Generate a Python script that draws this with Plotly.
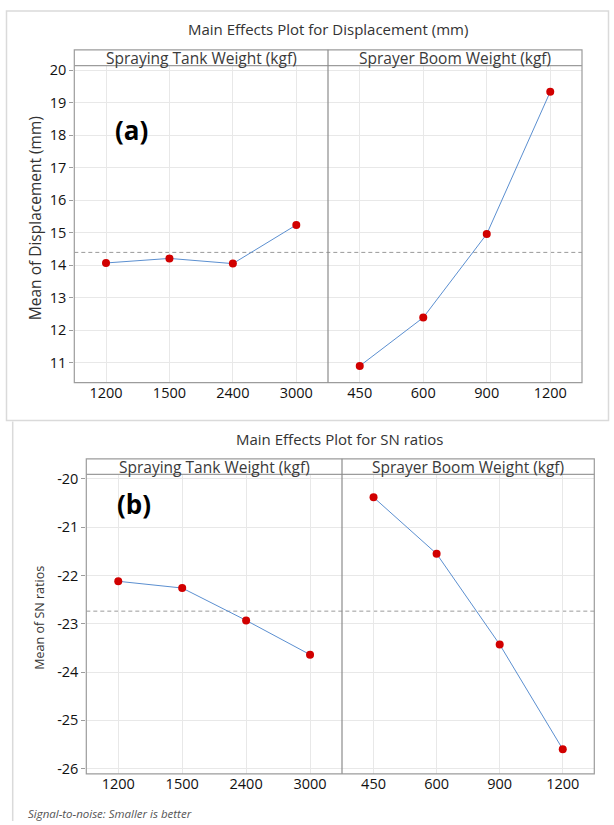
import plotly.graph_objects as go

W, H = 614, 825

# ---------------- data ----------------
tank_levels = ["1200", "1500", "2400", "3000"]
boom_levels = ["450", "600", "900", "1200"]
disp_tank = [14.07, 14.21, 14.05, 15.24]
disp_boom = [10.90, 12.39, 14.96, 19.34]
sn_tank = [-22.12, -22.26, -22.93, -23.64]
sn_boom = [-20.38, -21.55, -23.43, -25.60]
disp_ticks = [11, 12, 13, 14, 15, 16, 17, 18, 19, 20]
sn_ticks = [-26, -25, -24, -23, -22, -21, -20]
factor_names = ["Spraying Tank Weight (kgf)", "Sprayer Boom Weight (kgf)"]
titles = ["Main Effects Plot for Displacement (mm)", "Main Effects Plot for SN ratios"]
ytitles = ["Mean of Displacement (mm)", "Mean of SN ratios"]
panel_tags = ["(a)", "(b)"]
footnote = "Signal-to-noise: Smaller is better"

FONT = "Open Sans"
LINE_C = "#5b8fd0"
MARK_C = "#d10000"
FRAME_C = "#9c9c9c"
GRID_C = "#e8e8e8"
TICK_C = "#111111"


def fx(px):
    return px / W


def fy(py):
    return 1 - py / H


fig = go.Figure()

# layout geometry (pixels)
rows = [
    dict(left=74.3, mid=328.0, right=582.0, strip_top=45.3, top=61.3, bottom=381.7,
         yrange=[10.39, 20.143], ticks=disp_ticks,
         data=[disp_tank, disp_boom], title_y=24, ytitle_x=35, ytitle_size=15.5,
         tag_xy=(131.5, 126.5)),
    dict(left=86.3, mid=342.0, right=594.3, strip_top=458.8, top=474.5, bottom=777.3,
         yrange=[-26.109, -19.904], ticks=sn_ticks,
         data=[sn_tank, sn_boom], title_y=439, ytitle_x=39.5, ytitle_size=12.5,
         tag_xy=(134, 505)),
]

shapes = []
annotations = []
levels = [tank_levels, boom_levels]

for r, row in enumerate(rows):
    for c in range(2):
        idx = r * 2 + c + 1
        xa = "xaxis" if idx == 1 else f"xaxis{idx}"
        ya = "yaxis" if idx == 1 else f"yaxis{idx}"
        xref = "x" if idx == 1 else f"x{idx}"
        yref = "y" if idx == 1 else f"y{idx}"
        x0 = row["left"] if c == 0 else row["mid"]
        x1 = row["mid"] if c == 0 else row["right"]
        fig.add_trace(go.Scatter(
            x=levels[c], y=row["data"][c], xaxis=xref, yaxis=yref,
            mode="lines+markers",
            line=dict(color=LINE_C, width=1),
            marker=dict(color=MARK_C, size=8, line=dict(width=0)),
            showlegend=False, hoverinfo="x+y"))
        fig.layout[xa] = dict(
            domain=[fx(x0), fx(x1)], anchor=yref, type="category",
            range=[-0.5, 3.5], showgrid=True, gridcolor=GRID_C, gridwidth=1,
            zeroline=False, showline=False, ticks="",
            tickfont=dict(family=FONT, size=14.5, color=TICK_C), fixedrange=True)
        ydict = dict(
            domain=[fy(row["bottom"]), fy(row["top"])], anchor=xref,
            range=row["yrange"], tickvals=row["ticks"],
            ticktext=[str(t) for t in row["ticks"]],
            showgrid=True, gridcolor=GRID_C, gridwidth=1, zeroline=False,
            showline=False, fixedrange=True,
            tickfont=dict(family=FONT, size=14.5, color=TICK_C))
        if c == 0:
            ydict.update(ticks="outside", ticklen=4, tickcolor=FRAME_C)
        else:
            ydict.update(showticklabels=False, ticks="")
        fig.layout[ya] = ydict

    # mean reference line across both panels
    allvals = row["data"][0] + row["data"][1]
    mean_val = sum(allvals) / len(allvals)
    yref_left = "y" if r == 0 else "y3"
    shapes.append(dict(type="line", xref="paper", yref=yref_left,
                       x0=fx(row["left"]), x1=fx(row["right"]), y0=mean_val, y1=mean_val,
                       line=dict(color="#9a9a9a", width=1, dash="4px,3px"), layer="below"))
    # frame, strip, divider
    shapes.append(dict(type="rect", xref="paper", yref="paper",
                       x0=fx(row["left"]), x1=fx(row["right"]),
                       y0=fy(row["bottom"]), y1=fy(row["strip_top"]),
                       line=dict(color=FRAME_C, width=1.2)))
    shapes.append(dict(type="line", xref="paper", yref="paper",
                       x0=fx(row["left"]), x1=fx(row["right"]),
                       y0=fy(row["top"]), y1=fy(row["top"]),
                       line=dict(color=FRAME_C, width=1.2)))
    shapes.append(dict(type="line", xref="paper", yref="paper",
                       x0=fx(row["mid"]), x1=fx(row["mid"]),
                       y0=fy(row["bottom"]), y1=fy(row["strip_top"]),
                       line=dict(color="#8c8c8c", width=1.2)))
    # strip labels
    for c in range(2):
        x0 = row["left"] if c == 0 else row["mid"]
        x1 = row["mid"] if c == 0 else row["right"]
        annotations.append(dict(
            xref="paper", yref="paper", x=fx((x0 + x1) / 2),
            y=fy((row["strip_top"] + row["top"]) / 2 + 0.5),
            text=factor_names[c], showarrow=False, xanchor="center", yanchor="middle",
            font=dict(family=FONT, size=15.5, color="#3a3a3a")))
    # title
    annotations.append(dict(
        xref="paper", yref="paper", x=fx((row["left"] + row["right"]) / 2 - 0),
        y=fy(row["title_y"]), text=titles[r], showarrow=False,
        xanchor="center", yanchor="middle",
        font=dict(family=FONT, size=15, color="#333333")))
    # y title
    annotations.append(dict(
        xref="paper", yref="paper", x=fx(row["ytitle_x"]),
        y=fy((row["top"] + row["bottom"]) / 2 - 6), text=ytitles[r], showarrow=False,
        textangle=-90, xanchor="center", yanchor="middle",
        font=dict(family=FONT, size=row["ytitle_size"], color="#333333")))
    # panel tag
    annotations.append(dict(
        xref="paper", yref="paper", x=fx(row["tag_xy"][0]), y=fy(row["tag_xy"][1]),
        text="<b>" + panel_tags[r] + "</b>", showarrow=False,
        xanchor="center", yanchor="middle",
        font=dict(family=FONT, size=26, color="#000000")))

# outer boxes
shapes.append(dict(type="rect", xref="paper", yref="paper",
                   x0=fx(6.5), x1=fx(608.5), y0=fy(420), y1=fy(6),
                   line=dict(color="#dadada", width=1.5)))
shapes.append(dict(type="line", xref="paper", yref="paper",
                   x0=fx(12.7), x1=fx(12.7), y0=fy(825), y1=fy(421),
                   line=dict(color="#dadada", width=1.5)))

annotations.append(dict(
    xref="paper", yref="paper", x=fx(26), y=fy(817), text="<i>" + footnote + "</i>",
    showarrow=False, xanchor="left", yanchor="middle",
    font=dict(family=FONT, size=11.5, color="#555555")))

fig.update_layout(
    width=W, height=H, margin=dict(l=0, r=0, t=0, b=0),
    paper_bgcolor="white", plot_bgcolor="white",
    shapes=shapes, annotations=annotations, showlegend=False,
    font=dict(family=FONT))

fig.write_html("out.html", config={"displayModeBar": False},
               post_script="document.body.style.margin='0';document.body.style.overflow='hidden';")
